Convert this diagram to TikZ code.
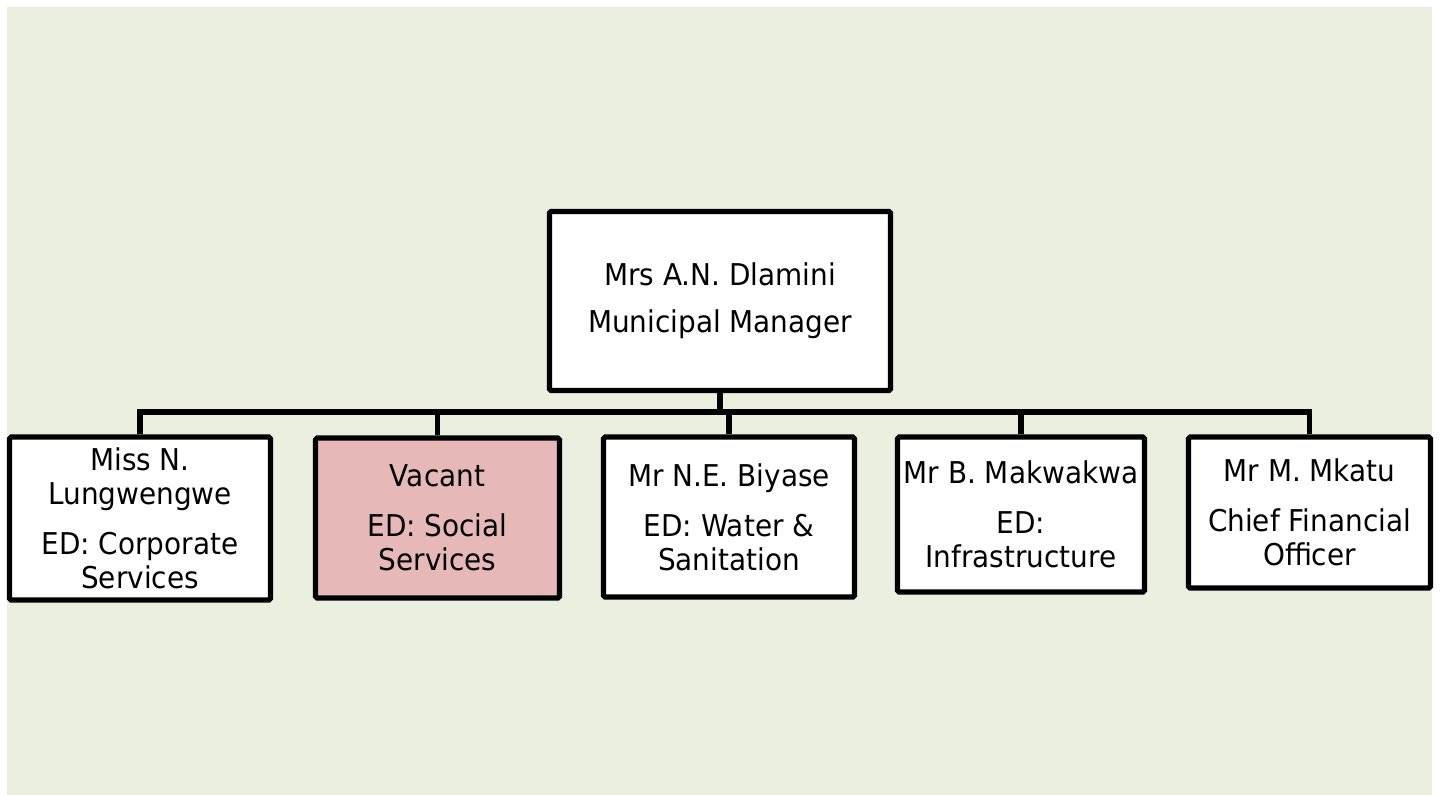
\documentclass[tikz,border=0pt]{standalone}
\usepackage{fontspec}
\setmainfont[FakeStretch=0.93]{DejaVu Sans}
\definecolor{orgBack}{RGB}{235,239,223}
\definecolor{orgVacant}{RGB}{230,185,184}

\begin{document}
\begin{tikzpicture}[x=0.5pt, y=-0.5pt,
    post/.style={draw=black, line width=2.6pt, fill=white, align=center, inner sep=0pt,
      anchor=north, rounded corners=0.8pt, font=\fontsize{15}{17}\selectfont},
    link/.style={line width=2.6pt}]
        \useasboundingbox (0,0) rectangle (1440,795);
        \fill[orgBack] (7,7) rectangle (1432,800);
        \node[post, anchor=center, minimum width=170.5pt, minimum height=89.5pt] (mm) at (720,301)
            {Mrs A.N. Dlamini\\[6.5pt]Municipal Manager};
        \coordinate (bus) at (720,412);
        \node[post, minimum width=130.5pt, minimum height=81.5pt] (corp) at (140,434.5)
            {Miss N.\\Lungwengwe\\[8pt]ED: Corporate\\Services};
        \node[post, fill=orgVacant, minimum width=122pt, minimum height=80pt] (social) at (437.5,435.5)
            {Vacant\\[8pt]ED: Social\\Services};
        \node[post, minimum width=125.5pt, minimum height=80pt] (water) at (729,434.5)
            {Mr N.E. Biyase\\[8pt]ED: Water \&\\Sanitation};
        \node[post, minimum width=123.5pt, minimum height=77.5pt] (infra) at (1021,434.5)
            {Mr B. Makwakwa\\[8pt]ED:\\Infrastructure};
        \node[post, minimum width=121pt, minimum height=75.5pt] (cfo) at (1309.5,434.5)
            {Mr M. Mkatu\\[8pt]Chief Financial\\Officer};
        \draw[link] (mm.south) -- (bus);
        \draw[link] (corp.north) |- (bus) -| (cfo.north);
        \foreach \dept in {social, water, infra}
            \draw[link] (\dept.north) -- (\dept.north |- bus);
      \end{tikzpicture}
\end{document}
